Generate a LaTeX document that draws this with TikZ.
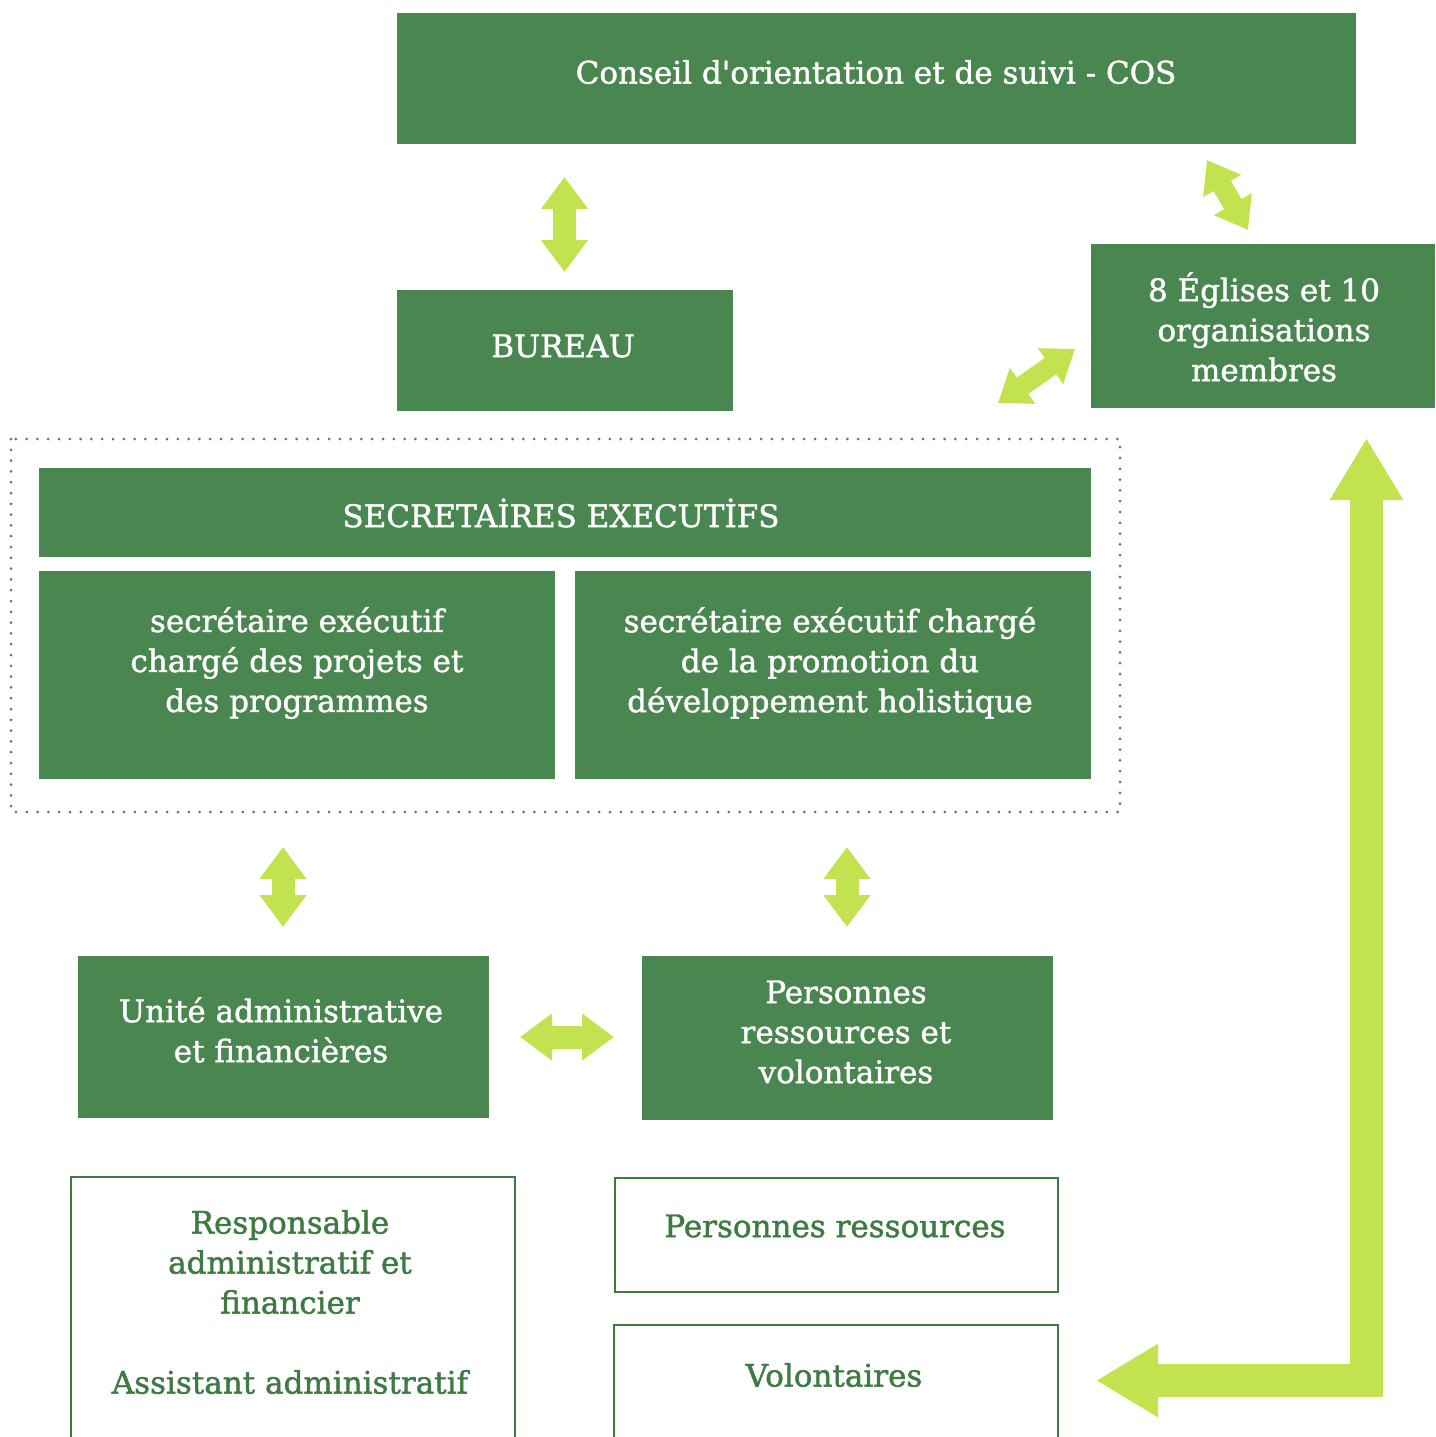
\documentclass[tikz,border=0pt]{standalone}
\usepackage{fontspec}
\setmainfont[FakeBold=1.4]{DejaVu Serif}
\newfontfamily\qfont[FakeBold=1.4,Ligatures=NoCommon]{DejaVu Serif}
\usetikzlibrary{arrows.meta}
\definecolor{dg}{HTML}{4A8650}
\definecolor{lg}{HTML}{C3E250}
\definecolor{tg}{HTML}{3E7B43}
\begin{document}
\begin{tikzpicture}[x=1pt,y=-1pt,
  gbox/.style={fill=dg, draw=none, inner sep=0pt, anchor=north west},
  obox/.style={draw=tg, line width=2.5pt, fill=none},
  wtxt/.style={text=white, align=center, inner sep=0pt, font=\fontsize{31}{40}\selectfont},
  gtxt/.style={text=tg, align=center, inner sep=0pt, font=\fontsize{31}{40}\selectfont},
  garrow/.style={draw=lg, line width=23pt, {Triangle[length=32pt,width=45pt]}-{Triangle[length=32pt,width=45pt]}},
  darrow/.style={draw=lg, line width=20pt, {Triangle[length=30pt,width=42pt]}-{Triangle[length=30pt,width=42pt]}},
  bigarrow/.style={draw=lg, line width=33pt, line join=miter, {Triangle[length=62pt,width=69pt]}-{Triangle[length=62pt,width=69pt]}},
  frame/.style={draw=dg, line width=3pt, line cap=round, dash pattern=on 0pt off 10.8pt}
]
\clip (0,0) rectangle (1435,1437);
\fill[white] (0,0) rectangle (1435,1437);

% green boxes
\node[gbox, minimum width=959pt, minimum height=131pt] (cos) at (397,13) {};
\node[wtxt] (cos-t) at (876,72) {Conseil d{\qfont\char"27}orientation et de suivi - COS};

\node[gbox, minimum width=336pt, minimum height=121pt] (bureau) at (397,290) {};
\node[wtxt] (bureau-t) at (563,346) {BUREAU};

\node[gbox, minimum width=344pt, minimum height=164pt] (egl) at (1091,244) {};
\node[wtxt] (egl-t) at (1264,327) {8 Églises et 10\\organisations\\membres};

\draw[frame] (11,439) rectangle (1120,812);
\coordinate (frameTR) at (998,403);

\node[gbox, minimum width=1052pt, minimum height=89pt] (sec) at (39,468) {};
\node[wtxt] (sec-t) at (561,513) {SECRETAİRES EXECUTİFS};

\node[gbox, minimum width=516pt, minimum height=208pt] (sec1) at (39,571) {};
\node[wtxt] (sec1-t) at (297,663) {secrétaire exécutif\\chargé des projets et\\des programmes};

\node[gbox, minimum width=516pt, minimum height=208pt] (sec2) at (575,571) {};
\node[wtxt] (sec2-t) at (830,663) {secrétaire exécutif chargé\\de la promotion du\\développement holistique};

\node[gbox, minimum width=411pt, minimum height=162pt] (unite) at (78,956) {};
\node[wtxt] (unite-t) at (281,1030) {Unité administrative\\et financières};

\node[gbox, minimum width=411pt, minimum height=164pt] (pers) at (642,956) {};
\node[wtxt] (pers-t) at (846,1032) {Personnes\\ressources et\\volontaires};

% outline boxes
\draw[obox] (71,1177) rectangle (515,1460);
\node[gtxt] (resp-t) at (290,1302) {Responsable\\administratif et\\financier\\[40pt]Assistant administratif};

\draw[obox] (615,1178) rectangle (1058,1292);
\node[gtxt] (pr-t) at (835,1226) {Personnes ressources};

\draw[obox] (614,1325) rectangle (1058,1460);
\node[gtxt] (vol-t) at (834,1375) {Volontaires};

% arrows
\coordinate (a1s) at (564.5,177);
\coordinate (a1e) at (564.5,272);
\draw[garrow] (a1s) -- (a1e);

\coordinate (a2s) at (1207,160);
\coordinate (a2e) at (1248,230);
\draw[darrow] (a2s) -- (a2e);

\coordinate (a3e) at (1075,349);
\draw[darrow] (frameTR) -- (a3e);

\coordinate (a4s) at (283,847);
\coordinate (a4e) at (283,927);
\draw[garrow] (a4s) -- (a4e);

\coordinate (a5s) at (847,847);
\coordinate (a5e) at (847,927);
\draw[garrow] (a5s) -- (a5e);

\coordinate (a6s) at (520,1037);
\coordinate (a6e) at (614,1037);
\draw[garrow] (a6s) -- (a6e);

\coordinate (a7s) at (1096,1380.5);
\coordinate (a7c) at (1366.5,1380.5);
\coordinate (a7e) at (1366.5,438);
\draw[bigarrow] (a7s) -- (a7c) -- (a7e);
\end{tikzpicture}
\end{document}
